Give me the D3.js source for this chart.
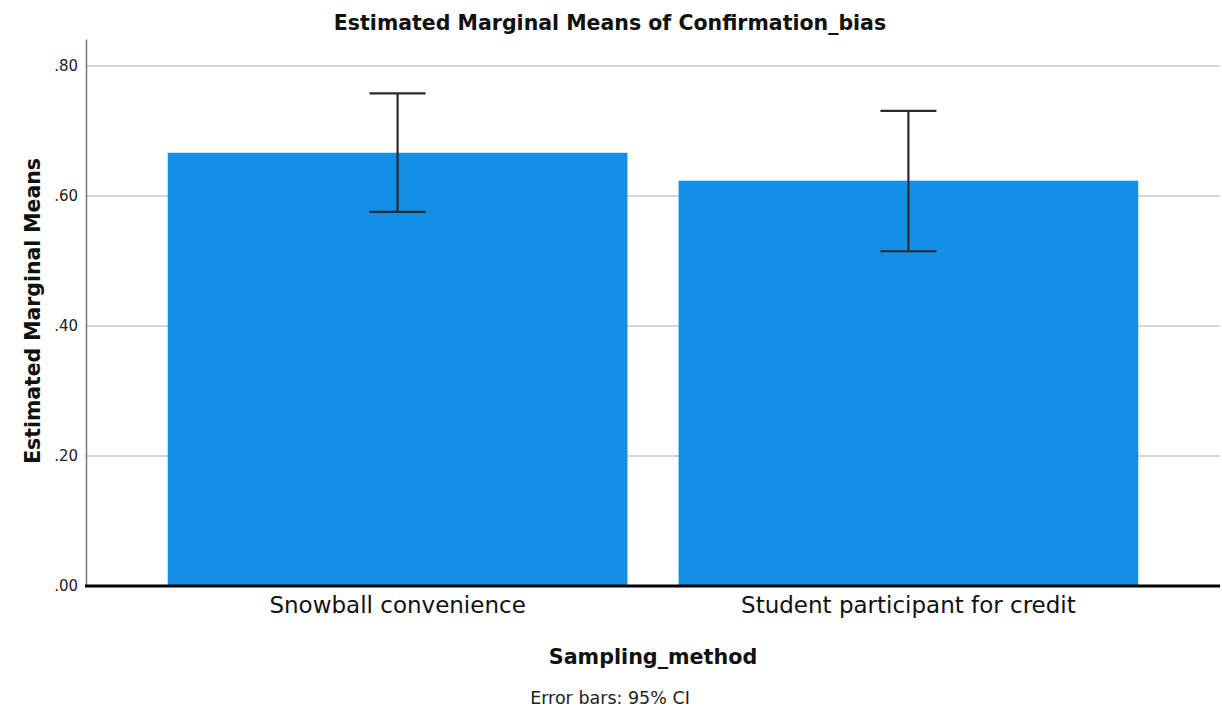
<!DOCTYPE html>
<html>
<head>
<meta charset="utf-8">
<script src="https://cdn.jsdelivr.net/npm/d3@7"></script>
<style>
  html, body { margin: 0; padding: 0; background: #fff; }
  svg { display: block; font-family: "DejaVu Sans", sans-serif; }
</style>
</head>
<body>
<svg id="chart" width="1222" height="710"></svg>
<script>
// Estimated marginal means of Confirmation_bias by sampling method, with 95% CI
const categories = ["Snowball convenience", "Student participant for credit"];
const means = [0.6665, 0.6235];
const ciLower = [0.5755, 0.5150];
const ciUpper = [0.7578, 0.7308];
const yTicks = [0, 0.2, 0.4, 0.6, 0.8];

const svg = d3.select("#chart");
const plotLeft = 86, plotRight = 1220, plotTop = 39, plotBottom = 586;

const x = d3.scaleBand()
  .domain(categories)
  .range([plotLeft, plotRight])
  .paddingInner(0.1)
  .paddingOuter(0.16);

const y = d3.scaleLinear()
  .domain([0, 0.8415])
  .range([plotBottom, plotTop]);

const fmt = v => d3.format(".2f")(v).replace(/^0/, "");

// horizontal gridlines
svg.append("g")
  .selectAll("line")
  .data(yTicks.filter(t => t > 0))
  .join("line")
  .attr("x1", plotLeft).attr("x2", plotRight)
  .attr("y1", d => y(d)).attr("y2", d => y(d))
  .attr("stroke", "#c8c8c8")
  .attr("stroke-width", 1.5);

// bars
svg.append("g")
  .selectAll("rect")
  .data(categories)
  .join("rect")
  .attr("x", d => x(d))
  .attr("width", x.bandwidth())
  .attr("y", (d, i) => y(means[i]))
  .attr("height", (d, i) => y(0) - y(means[i]))
  .attr("fill", "#148fe6");

// error bars
const capHalf = 28;
const eb = svg.append("g").attr("stroke", "#2a2a2a").attr("stroke-width", 2.2);
categories.forEach((c, i) => {
  const cx = x(c) + x.bandwidth() / 2;
  eb.append("line").attr("x1", cx).attr("x2", cx)
    .attr("y1", y(ciUpper[i])).attr("y2", y(ciLower[i]));
  eb.append("line").attr("x1", cx - capHalf).attr("x2", cx + capHalf)
    .attr("y1", y(ciUpper[i])).attr("y2", y(ciUpper[i]));
  eb.append("line").attr("x1", cx - capHalf).attr("x2", cx + capHalf)
    .attr("y1", y(ciLower[i])).attr("y2", y(ciLower[i]));
});

// y axis
const yAxis = svg.append("g")
  .attr("transform", `translate(${plotLeft},0)`)
  .call(d3.axisLeft(y).tickValues(yTicks).tickFormat(fmt).tickSize(0).tickPadding(8));
yAxis.select(".domain").attr("stroke", "#777").attr("stroke-width", 1.5);
yAxis.selectAll("text")
  .attr("font-size", 15)
  .attr("fill", "#222")
  .attr("font-family", "'DejaVu Sans', sans-serif");

// baseline at zero
svg.append("line")
  .attr("x1", plotLeft - 1).attr("x2", plotRight)
  .attr("y1", y(0)).attr("y2", y(0))
  .attr("stroke", "#000").attr("stroke-width", 3);

// x axis labels
const xAxis = svg.append("g")
  .attr("transform", `translate(0,${plotBottom})`)
  .call(d3.axisBottom(x).tickSize(0).tickPadding(11));
xAxis.select(".domain").remove();
xAxis.selectAll("text")
  .attr("font-size", 23)
  .attr("fill", "#111")
  .attr("font-family", "'DejaVu Sans', sans-serif");

// titles
svg.append("text")
  .attr("x", 610).attr("y", 30)
  .attr("text-anchor", "middle")
  .attr("font-size", 20.5).attr("font-weight", "bold").attr("fill", "#111")
  .text("Estimated Marginal Means of Confirmation_bias");

svg.append("text")
  .attr("transform", "translate(40,311) rotate(-90)")
  .attr("text-anchor", "middle")
  .attr("font-size", 20.4).attr("font-weight", "bold").attr("fill", "#111")
  .text("Estimated Marginal Means");

svg.append("text")
  .attr("x", (plotLeft + plotRight) / 2).attr("y", 664)
  .attr("text-anchor", "middle")
  .attr("font-size", 20.7).attr("font-weight", "bold").attr("fill", "#111")
  .text("Sampling_method");

svg.append("text")
  .attr("x", 610).attr("y", 704)
  .attr("text-anchor", "middle")
  .attr("font-size", 17.5).attr("fill", "#222")
  .text("Error bars: 95% CI");
</script>
</body>
</html>
